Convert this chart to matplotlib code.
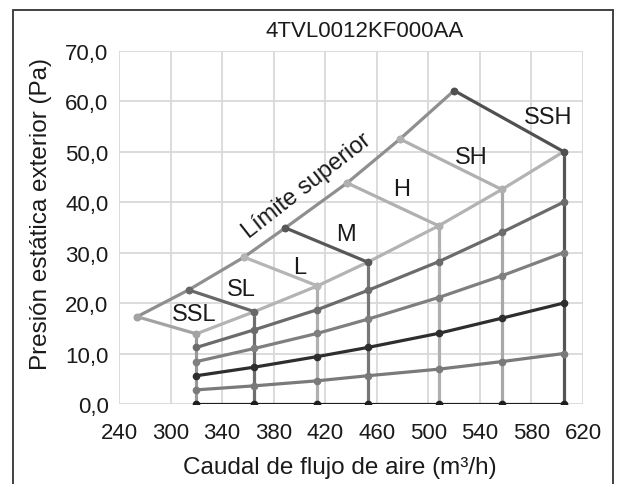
import matplotlib
matplotlib.use("Agg")
import matplotlib.pyplot as plt
from matplotlib.patches import Rectangle

plt.rcParams['font.family'] = ['Liberation Sans', 'DejaVu Sans']

# ---- data ----
speeds = ["SSL", "SL", "L", "M", "H", "SH", "SSH"]
flow = [320, 365, 414, 453, 508, 557, 605]
upper_x = [274, 314, 357, 389, 437, 478, 520]
upper_y = [17.3, 22.6, 29.1, 34.9, 43.8, 52.5, 62.1]
max_esp = [13.9, 18.3, 23.4, 28.1, 35.3, 42.5, 50.0]
curve40 = [11.2, 14.7, 18.7, 22.5, 28.2, 34.0, 40.0]
curve30 = [8.4, 11.0, 14.0, 16.8, 21.1, 25.4, 30.0]
curve20 = [5.6, 7.3, 9.4, 11.2, 14.0, 17.0, 20.0]
curve10 = [2.8, 3.6, 4.6, 5.6, 6.9, 8.4, 10.0]
curve0 = [0, 0, 0, 0, 0, 0, 0]
xticks = [260, 300, 340, 380, 420, 460, 500, 540, 580, 620]
xtick_labels = ["240", "300", "340", "380", "420", "460", "500", "540", "580", "620"]
yticks = [0, 10, 20, 30, 40, 50, 60, 70]
ytick_labels = ["0,0", "10,0", "20,0", "30,0", "40,0", "50,0", "60,0", "70,0"]

speed_colors = ["#a3a3a3", "#686868", "#b5b5b5", "#585858", "#b0b0b0", "#b0b0b0", "#505050"]
vert_colors = ["#999999", "#6e6e6e", "#b0b0b0", "#777777", "#b0b0b0", "#a8a8a8", "#555555"]
label_pos = {"SSL": (318, 17.8), "SL": (355, 22.8), "L": (400, 27.2), "M": (436, 33.7),
             "H": (479, 42.6), "SH": (533, 48.9), "SSH": (593, 56.8)}

txt = '#1a1a1a'

fig = plt.figure(figsize=(6.19, 4.85), dpi=100)
ax = fig.add_axes([119/619, 1-405/485, 464/619, 353.3/485])

lw = 2.3
ms = 4.5

# vertical lines at each speed
for i, x in enumerate(flow):
    ax.plot([x, x], [0, max_esp[i]], color=vert_colors[i], lw=lw, zorder=3, solid_capstyle='butt')

# resistance curves
curves = [(curve0, "#1e1e1e"), (curve10, "#7a7a7a"), (curve20, "#2e2e2e"), (curve30, "#7f7f7f"), (curve40, "#6b6b6b")]
for c, col in curves:
    ax.plot(flow, c, color=col, lw=lw, marker='o', ms=ms, zorder=4)

# max esp boundary
ax.plot(flow, max_esp, color="#b3b3b3", lw=lw, marker='o', ms=ms, zorder=4)

# upper limit
ax.plot(upper_x, upper_y, color="#8f8f8f", lw=lw, marker='o', ms=ms, zorder=4)

# speed segments
for i in range(len(speeds)):
    ax.plot([upper_x[i], flow[i]], [upper_y[i], max_esp[i]], color=speed_colors[i], lw=lw,
            marker='o', ms=ms, zorder=4)

for s in speeds:
    x, y = label_pos[s]
    ax.text(x, y, s, fontsize=17, ha='center', va='center', color=txt, zorder=6)

ax.text(406, 43.3, "Límite superior", fontsize=17, rotation=38, ha='center', va='center',
        color=txt, zorder=6, rotation_mode='anchor')

ax.set_xlim(260, 620)
ax.set_ylim(0, 70)
ax.set_xticks(xticks)
ax.set_xticklabels(xtick_labels)
ax.set_yticks(yticks)
ax.set_yticklabels(ytick_labels)
ax.tick_params(axis='x', length=0, labelsize=16, pad=13, colors=txt)
ax.tick_params(axis='y', length=0, labelsize=16, pad=7.5, colors=txt)
ax.grid(True, color='#d9d9d9', lw=1.3, zorder=0)
ax.set_axisbelow(True)
for sp in ax.spines.values():
    sp.set_visible(False)

fig.text(340/619, 1-468/485, "Caudal de flujo de aire (m³/h)", fontsize=17.5, color=txt,
         ha='center', va='center')
fig.text(40.7/619, 1-214/485, "Presión estática exterior (Pa)", fontsize=17.5, color=txt,
         ha='center', va='center', rotation=90)
fig.text(365/619, 1-31.7/485, "4TVL0012KF000AA", fontsize=16, color=txt, ha='center', va='center')

fig.patches.append(Rectangle((12.5/619, -0.1), 600/619, 1.1 - 11/485, transform=fig.transFigure,
                             fill=False, edgecolor='#333333', lw=1.3))

fig.savefig("out.png", dpi=100)
